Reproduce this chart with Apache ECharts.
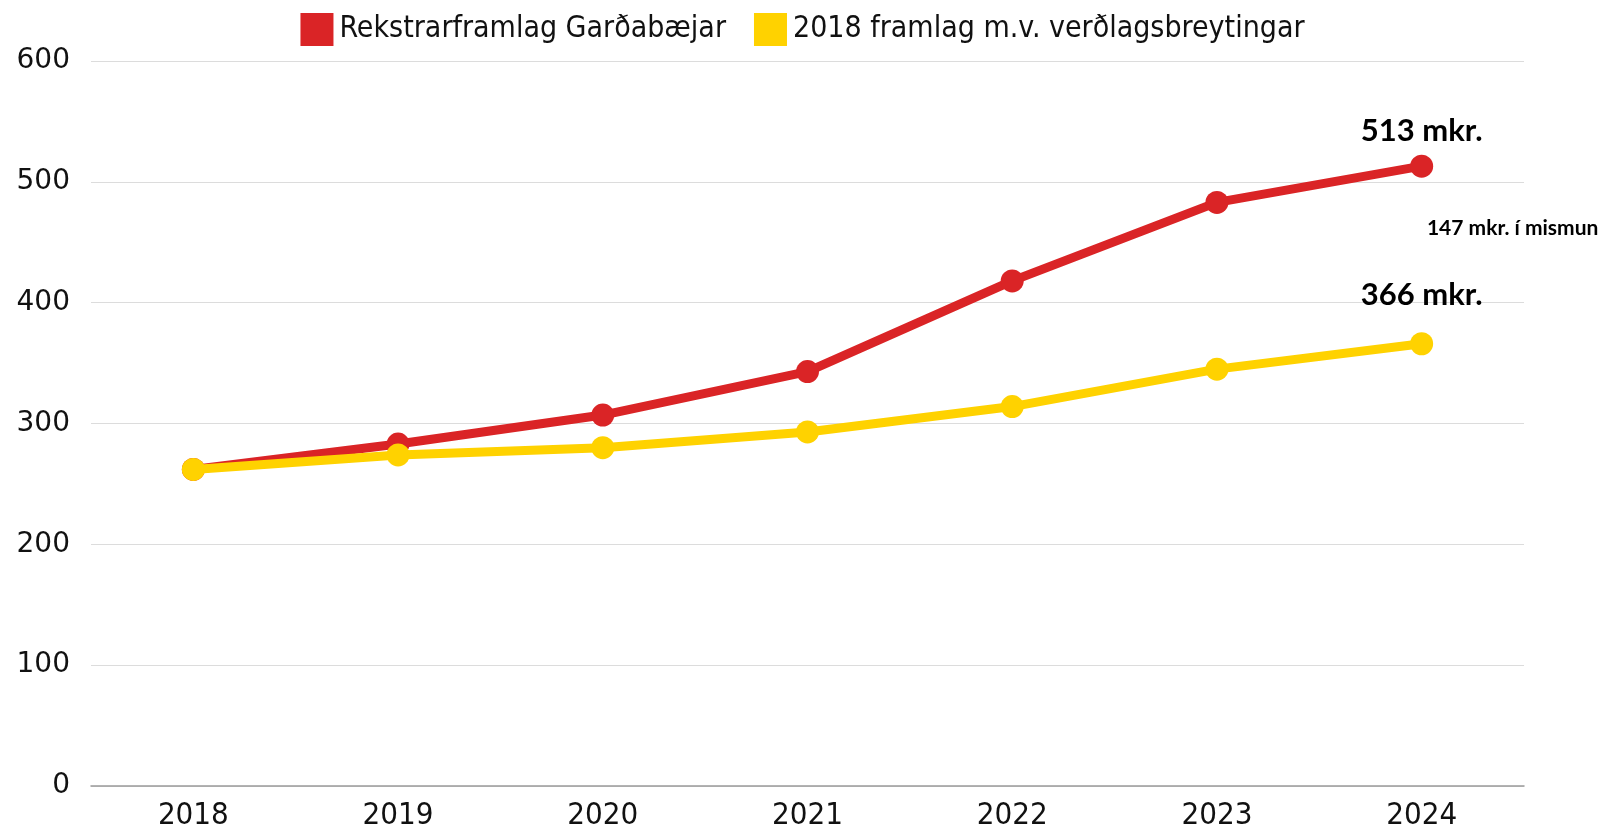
<!DOCTYPE html>
<html>
<head>
<meta charset="utf-8">
<script src="https://cdn.jsdelivr.net/npm/echarts@6/dist/echarts.min.js"></script>
<style>
  html, body { margin: 0; padding: 0; background: #fff; }
  #chart { width: 1605px; height: 831px; }
</style>
</head>
<body>
<div id="chart"></div>
<script>
var years = ["2018", "2019", "2020", "2021", "2022", "2023", "2024"];
var rekstrarframlag = [262, 283, 307, 343, 418, 483, 513];
var verdlag2018 = [262, 274, 280, 293, 314, 345, 366];
var seriesNames = ["Rekstrarframlag Garðabæjar", "2018 framlag m.v. verðlagsbreytingar"];

var RED = "#da2426";
var YELLOW = "#ffd200";
var narrow = "'Liberation Sans Narrow', 'DejaVu Sans Condensed', sans-serif";
var boldFont = "Lato, 'Noto Sans', sans-serif";

var last = years.length - 1;
var diff = rekstrarframlag[last] - verdlag2018[last];

// label only the final point of a series
function withEndLabel(values, dist) {
  return values.map(function (v, i) {
    if (i !== last) return v;
    return {
      value: v,
      label: {
        show: true,
        position: "top",
        distance: dist,
        formatter: function (p) { return p.value + " mkr."; },
        fontFamily: boldFont,
        fontWeight: "bold",
        fontSize: 31,
        color: "#000"
      }
    };
  });
}

var chart = echarts.init(document.getElementById("chart"), null, { renderer: "canvas" });

var option = {
  animation: false,
  backgroundColor: "#fff",
  legend: {
    top: 8,
    left: "center",
    itemWidth: 33,
    itemHeight: 33,
    itemGap: 28,
    icon: "rect",
    textStyle: { fontFamily: narrow, fontSize: 30, color: "#111", padding: [0, 0, 0, 1] },
    data: seriesNames
  },
  grid: { left: 91, right: 81, top: 61, bottom: 41, containLabel: false },
  xAxis: {
    type: "category",
    data: years,
    boundaryGap: true,
    axisTick: { show: false },
    axisLine: { lineStyle: { color: "#9a9a9a", width: 1.5 } },
    axisLabel: { fontFamily: narrow, fontSize: 31, color: "#111", margin: 14 }
  },
  yAxis: {
    type: "value",
    min: 0,
    max: 600,
    interval: 100,
    axisLine: { show: false },
    axisTick: { show: false },
    splitLine: { lineStyle: { color: "#dcdcdc", width: 1.2 } },
    axisLabel: { fontFamily: "'DejaVu Sans', sans-serif", fontSize: 28, color: "#111", margin: 21 }
  },
  series: [
    {
      name: seriesNames[0],
      type: "line",
      data: withEndLabel(rekstrarframlag, 8),
      color: RED,
      lineStyle: { width: 9, color: RED },
      symbol: "circle",
      symbolSize: 23,
      itemStyle: { color: RED },
      z: 2
    },
    {
      name: seriesNames[1],
      type: "line",
      data: withEndLabel(verdlag2018, 22),
      color: YELLOW,
      lineStyle: { width: 9, color: YELLOW },
      symbol: "circle",
      symbolSize: 23,
      itemStyle: { color: YELLOW },
      z: 3,
      markPoint: {
        symbol: "circle",
        symbolSize: 1,
        itemStyle: { color: "rgba(0,0,0,0)" },
        label: {
          show: true,
          position: "inside",
          offset: [91, 0],
          formatter: diff + " mkr. í mismun",
          fontFamily: boldFont,
          fontWeight: "bold",
          fontSize: 21,
          color: "#000"
        },
        data: [{ coord: [years[last], 462] }]
      }
    }
  ]
};

chart.setOption(option);
</script>
</body>
</html>
